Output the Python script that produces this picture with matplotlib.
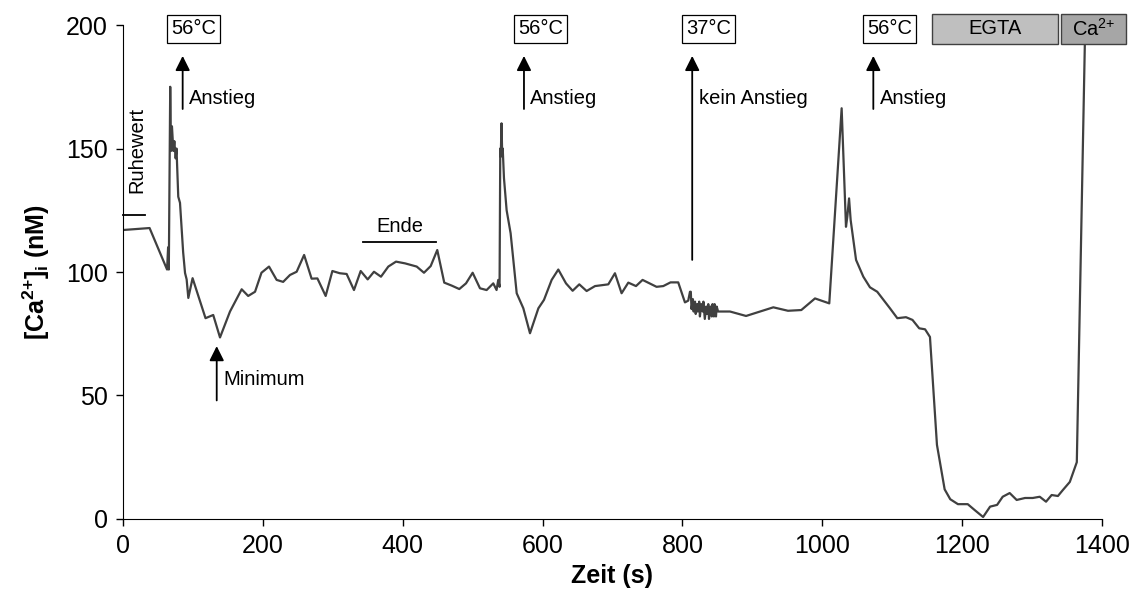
import matplotlib
matplotlib.use("Agg")
import matplotlib.pyplot as plt
from matplotlib.patches import Rectangle

plt.rcParams['font.family'] = ['Liberation Sans', 'DejaVu Sans']
plt.rcParams['mathtext.fontset'] = 'custom'
plt.rcParams['mathtext.rm'] = 'Liberation Sans'
plt.rcParams['mathtext.it'] = 'Liberation Sans'
plt.rcParams['mathtext.bf'] = 'Liberation Sans:bold'
plt.rcParams['mathtext.default'] = 'regular'

zeit = [0, 38, 63, 64.5, 65.5, 67.5, 68.6, 70, 72, 73.4, 75.3, 76.5, 79, 81.5, 86, 88.7, 91, 93.4,
        99.5, 118, 129, 138.7, 153, 169.7, 179, 188.8, 198, 208.8, 219.7, 229, 238.8, 248.3,
        259, 269.7, 278, 289.8, 299.4, 310, 319.8, 330.3, 339.9, 349.9, 358.9, 368.9, 379.4,
        390.4, 403.3, 420, 430.4, 440, 449.4, 459.4, 470, 480.9, 490.5, 500, 510.5, 520, 529.5,
        534.2, 536.6, 538.5, 539.5, 540.2, 541.3, 542.3, 543, 544.8, 548.6, 554.3, 563, 572.5,
        582, 594, 602, 613, 622.5, 633.5, 643, 652.5, 663, 675, 694, 703.5, 713, 722.6, 733.6,
        743, 763, 772.6, 783, 794, 803.6, 808.3, 810.8,
        812, 813, 815, 816, 818, 819, 821, 822, 824, 825, 827, 829, 830, 832, 834, 835, 837,
        838, 840, 842, 843, 845, 846, 848, 849,
        851, 868, 891, 911, 930, 951, 970, 989.6, 1010, 1027.7, 1033.9, 1035.8, 1038.3, 1040.6,
        1048.3, 1058.7, 1068.2, 1078.6, 1096.8, 1107.3, 1119.7, 1129, 1138.6, 1147, 1154, 1164,
        1175, 1183, 1194, 1208, 1218, 1230, 1240, 1250, 1258, 1268, 1278, 1290, 1301, 1311,
        1320, 1328, 1337, 1344, 1354, 1364, 1376]
ca = [117, 117.8, 101, 110, 101, 175, 149, 159, 149, 153, 146, 150, 130.5, 128, 108, 99.6, 97, 89.5,
      97.5, 81.3, 82.6, 73.5, 84, 93, 90.3, 92, 99.7, 102.2, 96.8, 96, 98.8, 100.1,
      106.9, 97.3, 97.4, 90.3, 100.4, 99.5, 99.2, 92.7, 100.4, 97, 100.1, 98.1, 102.2,
      104.2, 103.5, 102.2, 99.7, 102.4, 108.9, 95.7, 94.5, 93.1, 95.4, 99.7, 93.4, 92.7, 95.4,
      92.7, 96.8, 94, 150, 146.7, 160.2, 147, 150, 138, 125, 115.7, 91.4, 85.3,
      75.2, 85.3, 88.7, 96.8, 101, 95.4, 92.4, 95, 92.3, 94.3, 95, 99.5, 91.4, 95.7, 94.3,
      96.8, 94, 94.3, 95.8, 95.8, 87.7, 88.4, 92,
      92, 85, 89, 84, 88, 83, 87, 84, 88, 82, 87, 84, 88, 81, 86, 83, 87,
      81, 86, 82, 87, 82, 87, 82, 86,
      84, 84, 82.2, 84, 85.7, 84.3, 84.6, 89.3, 87.3, 166.3, 118.3, 122.4, 129.8, 121,
      104.9, 98.1, 93.8, 92, 85.3, 81.3, 81.7, 80.6, 77.2, 76.8, 73.7, 30,
      12, 8, 6, 6, 3.6, 0.8, 5, 5.7, 9, 10.5, 7.7, 8.5, 8.5, 9,
      7, 9.7, 9.3, 11.7, 15, 23, 200]

temp_labels = ['56°C', '56°C', '37°C', '56°C']
temp_pos = [100.6, 597, 837.5, 1096]
pfeil_pos = [85.3, 573.4, 814, 1073]
pfeil_text = ['Anstieg', 'Anstieg', 'kein Anstieg', 'Anstieg']
pfeil_unten = [166, 166, 104.9, 166]

fig = plt.figure(figsize=(11.39, 6.06), dpi=100)
ax = fig.add_axes([0.108, 0.1436, 0.8595, 0.8151])

ax.plot(zeit, ca, color='#404040', lw=1.6, zorder=2)

ax.set_xlim(0, 1400)
ax.set_ylim(0, 200)
ax.set_xticks(range(0, 1401, 200))
ax.set_yticks(range(0, 201, 50))
ax.spines['top'].set_visible(False)
ax.spines['right'].set_visible(False)
ax.tick_params(direction='out', length=5, width=1, labelsize=18, pad=6)
ax.set_xlabel('Zeit (s)', fontsize=18, fontweight='bold', labelpad=4)
ax.set_ylabel(r'$\mathbf{[Ca^{2{+}}]_i\ (nM)}$', fontsize=18, labelpad=10)

fs = 14.5
# Temperatur-Kästen und Pfeile
for lab, xb, xa, txt, yu in zip(temp_labels, temp_pos, pfeil_pos, pfeil_text, pfeil_unten):
    ax.text(xb, 198.4, lab, ha='center', va='center', fontsize=fs, clip_on=False,
            bbox=dict(boxstyle='square,pad=0.2', fc='white', ec='black', lw=0.9), zorder=5)
    ax.annotate('', xy=(xa, 187.5), xytext=(xa, yu),
                arrowprops=dict(arrowstyle='-|>', color='black', lw=1.3, mutation_scale=22,
                                shrinkA=0, shrinkB=0))
    ax.text(xa + 9, 170.4, txt, ha='left', va='center', fontsize=fs)

# EGTA / Ca2+ Balken
ax.add_patch(Rectangle((1156.4, 192.3), 181.1, 12.2, fc='#bfbfbf', ec='#404040', lw=1,
                       clip_on=False, zorder=5))
ax.add_patch(Rectangle((1341, 192.3), 93, 12.2, fc='#a6a6a6', ec='#404040', lw=1,
                       clip_on=False, zorder=5))
ax.text(1247, 198.4, 'EGTA', ha='center', va='center', fontsize=fs, zorder=6, clip_on=False)
ax.text(1387.5, 198.4, r'Ca$^{2{+}}$', ha='center', va='center', fontsize=fs, zorder=6, clip_on=False)

# Ruhewert
ax.plot([0, 32], [123, 123], color='black', lw=1.3, clip_on=False)
ax.text(19.5, 149.4, 'Ruhewert', rotation=90, ha='center', va='center', fontsize=fs)

# Minimum
ax.annotate('', xy=(134, 70), xytext=(134, 48),
            arrowprops=dict(arrowstyle='-|>', color='black', lw=1.3, mutation_scale=22,
                            shrinkA=0, shrinkB=0))
ax.text(143.5, 56.3, 'Minimum', ha='left', va='center', fontsize=fs)

# Ende
ax.plot([343.7, 447.6], [112.3, 112.3], color='black', lw=1.3)
ax.text(396, 118.4, 'Ende', ha='center', va='center', fontsize=fs)

fig.savefig('out.png', dpi=100)
